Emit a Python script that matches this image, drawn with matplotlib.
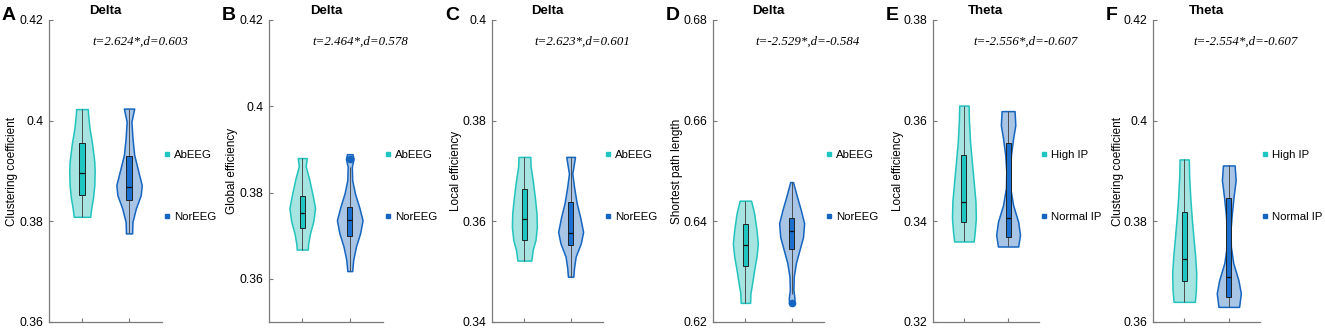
import numpy as np
import matplotlib
matplotlib.use('Agg')
import matplotlib.pyplot as plt
from matplotlib.lines import Line2D
from matplotlib.ticker import FuncFormatter

plt.rcParams['font.family'] = ['Liberation Sans', 'DejaVu Sans']

# panel texts
letters = ['A', 'B', 'C', 'D', 'E', 'F']
titles = ['Delta', 'Delta', 'Delta', 'Delta', 'Theta', 'Theta']
ylabels = ['Clustering coefficient', 'Global efficiency', 'Local efficiency',
           'Shortest path length', 'Local efficiency', 'Clustering coefficient']
stats = ['t=2.624*,d=0.603', 't=2.464*,d=0.578', 't=2.623*,d=0.601',
         't=-2.529*,d=-0.584', 't=-2.556*,d=-0.607', 't=-2.554*,d=-0.607']
groups_ab = ['AbEEG', 'NorEEG']
groups_ip = ['High IP', 'Normal IP']
ylims = [(0.36, 0.42), (0.35, 0.42), (0.34, 0.40), (0.62, 0.68), (0.32, 0.38), (0.36, 0.42)]
yticks = [[0.36, 0.38, 0.40, 0.42], [0.36, 0.38, 0.40, 0.42], [0.34, 0.36, 0.38, 0.40],
          [0.62, 0.64, 0.66, 0.68], [0.32, 0.34, 0.36, 0.38], [0.36, 0.38, 0.40, 0.42]]

# violin outlines: values and relative half widths, box = [wlo, q1, median, q3, whi]
A_ab_vals = [0.4023, 0.4011, 0.3985, 0.3952, 0.3918, 0.3899, 0.3872, 0.3846, 0.3826, 0.3809]
A_ab_wid = [17, 18, 22, 30, 36, 37, 36, 32, 27, 24]
A_ab_box = [0.3809, 0.3852, 0.3896, 0.3956, 0.4023]
A_nor_vals = [0.4024, 0.3998, 0.3965, 0.3932, 0.3899, 0.3872, 0.3852, 0.3826, 0.3799, 0.3776]
A_nor_wid = [15, 7, 10, 15, 27, 37, 34, 20, 10, 9]
A_nor_box = [0.3776, 0.3842, 0.3868, 0.3930, 0.4024]

B_ab_vals = [0.3880, 0.3861, 0.3831, 0.3794, 0.3764, 0.3734, 0.3704, 0.3681, 0.3668]
B_ab_wid = [13, 10, 20, 30, 37, 32, 22, 17, 16]
B_ab_box = [0.3668, 0.3717, 0.3753, 0.3792, 0.3880]
B_nor_vals = [0.3889, 0.3878, 0.3860, 0.3829, 0.3798, 0.3767, 0.3736, 0.3706, 0.3675, 0.3644, 0.3618]
B_nor_wid = [8, 11, 6, 7, 15, 27, 37, 30, 18, 10, 7]
B_nor_box = [0.3618, 0.3700, 0.3736, 0.3767, 0.3860]
B_nor_out = [0.3878]

C_ab_vals = [0.3728, 0.3709, 0.3682, 0.3649, 0.3616, 0.3589, 0.3563, 0.3543, 0.3522]
C_ab_wid = [17, 18, 24, 30, 35, 36, 32, 24, 20]
C_ab_box = [0.3522, 0.3563, 0.3605, 0.3664, 0.3728]
C_nor_vals = [0.3728, 0.3695, 0.3669, 0.3636, 0.3609, 0.3579, 0.3556, 0.3530, 0.3507, 0.3490]
C_nor_wid = [13, 5, 10, 18, 28, 37, 30, 15, 10, 8]
C_nor_box = [0.3490, 0.3552, 0.3577, 0.3639, 0.3728]

D_ab_vals = [0.6441, 0.6416, 0.6383, 0.6356, 0.6330, 0.6303, 0.6277, 0.6257, 0.6238]
D_ab_wid = [17, 26, 33, 37, 33, 26, 20, 15, 14]
D_ab_box = [0.6238, 0.6311, 0.6352, 0.6395, 0.6441]
D_nor_vals = [0.6478, 0.6449, 0.6422, 0.6396, 0.6369, 0.6343, 0.6317, 0.6290, 0.6264, 0.6247, 0.6236]
D_nor_wid = [4, 15, 26, 35, 32, 22, 12, 6, 5, 8, 7]
D_nor_box = [0.6255, 0.6345, 0.6381, 0.6406, 0.6478]
D_nor_out = [0.6238]

E_ab_vals = [0.3630, 0.3598, 0.3558, 0.3518, 0.3479, 0.3439, 0.3406, 0.3379, 0.3360]
E_ab_wid = [13, 14, 17, 22, 27, 32, 33, 30, 27]
E_ab_box = [0.3360, 0.3398, 0.3439, 0.3532, 0.3630]
E_nor_vals = [0.3619, 0.3591, 0.3565, 0.3532, 0.3499, 0.3466, 0.3432, 0.3399, 0.3373, 0.3350]
E_nor_wid = [18, 20, 14, 8, 5, 6, 14, 28, 33, 28]
E_nor_box = [0.3350, 0.3369, 0.3407, 0.3555, 0.3619]

F_ab_vals = [0.3923, 0.3889, 0.3849, 0.3809, 0.3769, 0.3730, 0.3697, 0.3664, 0.3640]
F_ab_wid = [13, 14, 17, 21, 26, 31, 34, 33, 30]
F_ab_box = [0.3640, 0.3681, 0.3725, 0.3819, 0.3923]
F_nor_vals = [0.3911, 0.3882, 0.3849, 0.3816, 0.3783, 0.3750, 0.3717, 0.3683, 0.3657, 0.3630]
F_nor_wid = [17, 20, 14, 9, 5, 6, 13, 28, 35, 30]
F_nor_box = [0.3630, 0.3650, 0.3690, 0.3846, 0.3911]

first = [(A_ab_vals, A_ab_wid, A_ab_box, []), (B_ab_vals, B_ab_wid, B_ab_box, []),
         (C_ab_vals, C_ab_wid, C_ab_box, []), (D_ab_vals, D_ab_wid, D_ab_box, []),
         (E_ab_vals, E_ab_wid, E_ab_box, []), (F_ab_vals, F_ab_wid, F_ab_box, [])]
second = [(A_nor_vals, A_nor_wid, A_nor_box, []), (B_nor_vals, B_nor_wid, B_nor_box, B_nor_out),
          (C_nor_vals, C_nor_wid, C_nor_box, []), (D_nor_vals, D_nor_wid, D_nor_box, D_nor_out),
          (E_nor_vals, E_nor_wid, E_nor_box, []), (F_nor_vals, F_nor_wid, F_nor_box, [])]

# colours: edge, fill, box
c_one = ('#22c3bd', '#a6e4e1', '#1fc6c1')
c_two = ('#1565c0', '#a8c5e6', '#1a6fcf')

# axes spans in pixels (left, right)
spans = [(49, 162), (269, 383), (492, 603), (713, 824), (933, 1039), (1153, 1260)]
W, H = 1325, 330
fig = plt.figure(figsize=(W / 100, H / 100), dpi=100)

def violin(ax, pos, vals, wid, box, outl, cols):
    y = np.array(vals)
    w = np.array(wid, dtype=float) / max(wid) * 0.27
    ax.fill_betweenx(y, pos - w, pos + w, facecolor=cols[1], edgecolor=cols[0],
                     lw=1.1, zorder=2)
    ax.vlines(pos, box[0], box[4], color='#4d4d4d', lw=0.7, zorder=3)
    ax.bar(pos, box[3] - box[1], bottom=box[1], width=0.11, color=cols[2],
           edgecolor='#222222', lw=0.7, zorder=4)
    ax.hlines(box[2], pos - 0.055, pos + 0.055, color='#111111', lw=0.9, zorder=5)
    if outl:
        ax.plot([pos] * len(outl), outl, 'o', color=cols[0], ms=4.5, zorder=6)

for i in range(6):
    l, r = spans[i]
    ax = fig.add_axes([l / W, 8 / H, (r - l) / W, 302 / H])
    violin(ax, 1, *first[i], c_one)
    violin(ax, 2, *second[i], c_two)

    ax.set_xlim(0.3, 2.7)
    ax.set_ylim(*ylims[i])
    ax.set_xticks([1, 2])
    ax.set_xticklabels([])
    ax.set_yticks(yticks[i])
    ax.yaxis.set_major_formatter(FuncFormatter(lambda v, p: '%g' % round(v, 4)))
    for s in ['top', 'right']:
        ax.spines[s].set_visible(False)
    for s in ['left', 'bottom']:
        ax.spines[s].set_color('#7a7a7a')
        ax.spines[s].set_linewidth(0.9)
    ax.tick_params(direction='in', length=3, width=0.8, color='#7a7a7a',
                   labelsize=8.7, pad=4)
    ax.set_ylabel(ylabels[i], fontsize=8.5)
    ax.yaxis.set_label_coords(-0.27, 0.5)
    ax.set_title(titles[i], fontsize=9.5, fontweight='bold', pad=4)
    ax.text(0.38, 0.927, stats[i], transform=ax.transAxes, fontsize=9.3,
            family=['Liberation Serif', 'DejaVu Serif'], style='italic', va='center')
    fig.text((l - 47) / W, 1 - 20 / H, letters[i], fontsize=14, fontweight='bold',
             va='baseline', ha='left')

    labs = groups_ab if i < 4 else groups_ip
    handles = [Line2D([], [], ls='', marker='s', ms=3.5, color=c_one[2]),
               Line2D([], [], ls='', marker='s', ms=3.5, color=c_two[0])]
    ax.legend(handles, labs, loc='center left', bbox_to_anchor=(1.02, 0.45),
              frameon=False, fontsize=8.2, handlelength=0.5, handletextpad=0.35,
              labelspacing=4.6, borderaxespad=0, borderpad=0)

fig.savefig('out.png', dpi=100)
